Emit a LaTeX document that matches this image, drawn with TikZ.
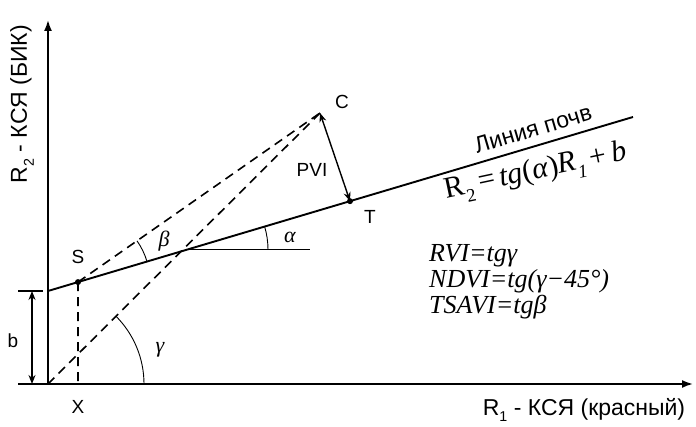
\documentclass[tikz,border=0pt]{standalone}
\usepackage{fontspec}
\setmainfont{Liberation Serif}
\newfontfamily\lsans{Liberation Sans}
\usetikzlibrary{arrows.meta,calc}
\newcommand\lowsub[1]{\raisebox{-0.3em}{\scalebox{0.62}{#1}}}
\begin{document}
\begin{tikzpicture}[x=1pt,y=1pt,
  axis/.style={line width=1.8pt,-{Latex[length=11pt,width=8pt]}},
  soil/.style={line width=1.9pt},
  dashline/.style={line width=1.6pt,dash pattern=on 9pt off 6pt},
  thinarc/.style={line width=0.9pt},
  dbl/.style={line width=1.4pt,{Stealth[length=9pt,width=7pt]}-{Stealth[length=9pt,width=7pt]}},
  lbl/.style={font=\lsans\fontsize{19}{21}\selectfont,inner sep=0pt},
  biglbl/.style={font=\lsans\fontsize{23}{25}\selectfont,inner sep=0pt},
  greek/.style={font=\itshape\fontsize{22}{24}\selectfont,inner sep=0pt},
  formula/.style={font=\itshape\fontsize{26}{28}\selectfont,inner sep=0pt,anchor=west}]
\useasboundingbox (0,0) rectangle (696,427);
% key points
\coordinate (O) at (48,43);
\coordinate (Ytop) at (48,407);
\coordinate (Xend) at (693,43);
\coordinate (B) at (48,136);
\coordinate (E) at (633,310);
\coordinate (S) at ($(B)!30/585!(E)$);
\coordinate (T) at ($(B)!302/585!(E)$);
\coordinate (P) at ($(B)!139/585!(E)$);
\coordinate (C) at (320,314);
\coordinate (Xs) at (78,43);
\coordinate (Ph) at ($(P)+(123,0)$);
\coordinate (bt) at (32,136);
\coordinate (bb) at (32,43);
\coordinate (t1a) at (18,136);
\coordinate (t1b) at (43,136);
\coordinate (t2a) at (18,43);
% axes
\draw[axis] (O) -- (Ytop);
\draw[axis] (O) -- (Xend);
% soil line
\draw[soil] (B) -- (E);
% dashed lines
\draw[dashline] (S) -- (C);
\draw[dashline] (O) -- (C);
\draw[dashline] (S) -- (Xs);
% horizontal
\draw[line width=1.6pt] (P) -- (Ph);
% arcs
\draw[thinarc] ($(O)+(96,0)$) arc (0:44.9:96);
\draw[thinarc] ($(P)+(81,0)$) arc (0:16.56:81);
\draw[thinarc] ($(S)+(16.56:72)$) arc (16.56:34.94:72);
% b dimension
\draw[line width=1.3pt] (t1a) -- (t1b);
\draw[line width=1.3pt] (t2a) -- (O);
\draw[dbl] (bt) -- (bb);
% PVI
\draw[dbl] (C) -- (T);
% dots
\fill (S) circle (3);
\fill (T) circle (3);
% labels
\node[lbl] (lS) at (78,170) {S};
\node[lbl] (lX) at (78,20) {X};
\node[lbl] (lT) at (370,210) {T};
\node[lbl] (lC) at (342,325) {C};
\node[lbl] (lPVI) at (312,257) {PVI};
\node[lbl] (lb) at (13,86) {b};
\node[greek] (la) at (290,190) {α};
\node[greek] (lbeta) at (164,186) {β};
\node[greek] (lg) at (160,77) {γ};
\node[biglbl,rotate=90] (ylab) at (22,323) {R\lowsub{2} - КСЯ (БИК)};
\node[biglbl] (xlab) at (584,17) {R\lowsub{1} - КСЯ (красный)};
\node[biglbl,rotate=16.5] (soiltxt) at (533,298) {Линия почв};
\node[inner sep=0pt,font=\fontsize{30}{32}\selectfont,rotate=12] (eq) at (536,254) {R\lowsub{2}\,=\,\textit{tg}(\textit{α})\textit{R}\lowsub{\textit{1}}\,+\,\textit{b}};
\node[formula] (f1) at (429,171) {RVI=tgγ};
\node[formula] (f2) at (429,146) {NDVI=tg(γ−45°)};
\node[formula] (f3) at (429,120) {TSAVI=tgβ};
\end{tikzpicture}
\end{document}
